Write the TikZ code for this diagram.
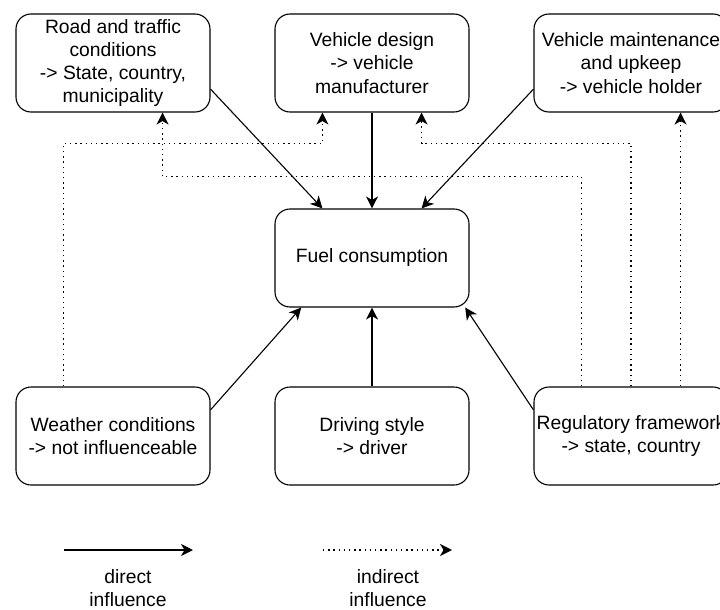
\documentclass[tikz,border=0pt]{standalone}
\usepackage{fontspec}
\setmainfont{Liberation Sans}
\usetikzlibrary{arrows.meta}
\begin{document}
\begin{tikzpicture}[x=1pt,y=-1pt,
        box/.style={draw,line width=1.1pt,rounded corners=15pt,minimum width=194pt,minimum height=98pt,inner sep=1pt,align=center,font=\fontsize{19.3}{23.3}\selectfont},
        direct/.style={line width=1.1pt,-{Stealth[length=12pt,width=12pt,inset=3.5pt]}},
        indirect/.style={line width=1.4pt,dash pattern=on 1.4pt off 3.8pt,-{Stealth[length=12pt,width=12pt,inset=3.5pt]}},
        legend/.style={align=center,font=\fontsize{19.3}{23.3}\selectfont}]
        \useasboundingbox (0,0) rectangle (720,610);
        \node[box] (road) at (113,63) {Road and traffic\\conditions\\-> State, country,\\municipality};
        \node[box] (design) at (372,63) {Vehicle design\\-> vehicle\\manufacturer};
        \node[box] (upkeep) at (631,63) {Vehicle maintenance\\and upkeep\\-> vehicle holder};
        \node[box] (fuel) at (372,258) {Fuel consumption};
        \node[box] (weather) at (113,436) {Weather conditions\\-> not influenceable};
        \node[box] (driving) at (372,436) {Driving style\\-> driver};
        \node[box] (rules) at (631,436) {Regulatory framework\\-> state, country};
        \draw[direct] (road.-15) -- (fuel.135);
        \draw[direct] (design) -- (fuel);
        \draw[direct] (upkeep.195) -- (fuel.45);
        \draw[direct] (weather.15) -- (fuel.215);
        \draw[direct] (driving) -- (fuel);
        \draw[direct] (rules.165) -- (fuel.-28.6);
        \draw[indirect] (weather.135) -- ++(0,-243) -| (design.225);
        \draw[indirect] (rules.135) -- ++(0,-210) -| (road.-45);
        \draw[indirect] (rules.north) -- ++(0,-243) -| (design.-45);
        \draw[indirect] (rules.45) -- (upkeep.-45);
        \coordinate (d1) at (64,550);
        \coordinate (d2) at (193,550);
        \coordinate (i1) at (323,550);
        \coordinate (i2) at (452,550);
        \draw[direct] (d1) -- (d2);
        \draw[indirect] (i1) -- (i2);
        \node[legend] (dtext) at (128,588) {direct\\influence};
        \node[legend] (itext) at (388,588) {indirect\\influence};
    \end{tikzpicture}
\end{document}
